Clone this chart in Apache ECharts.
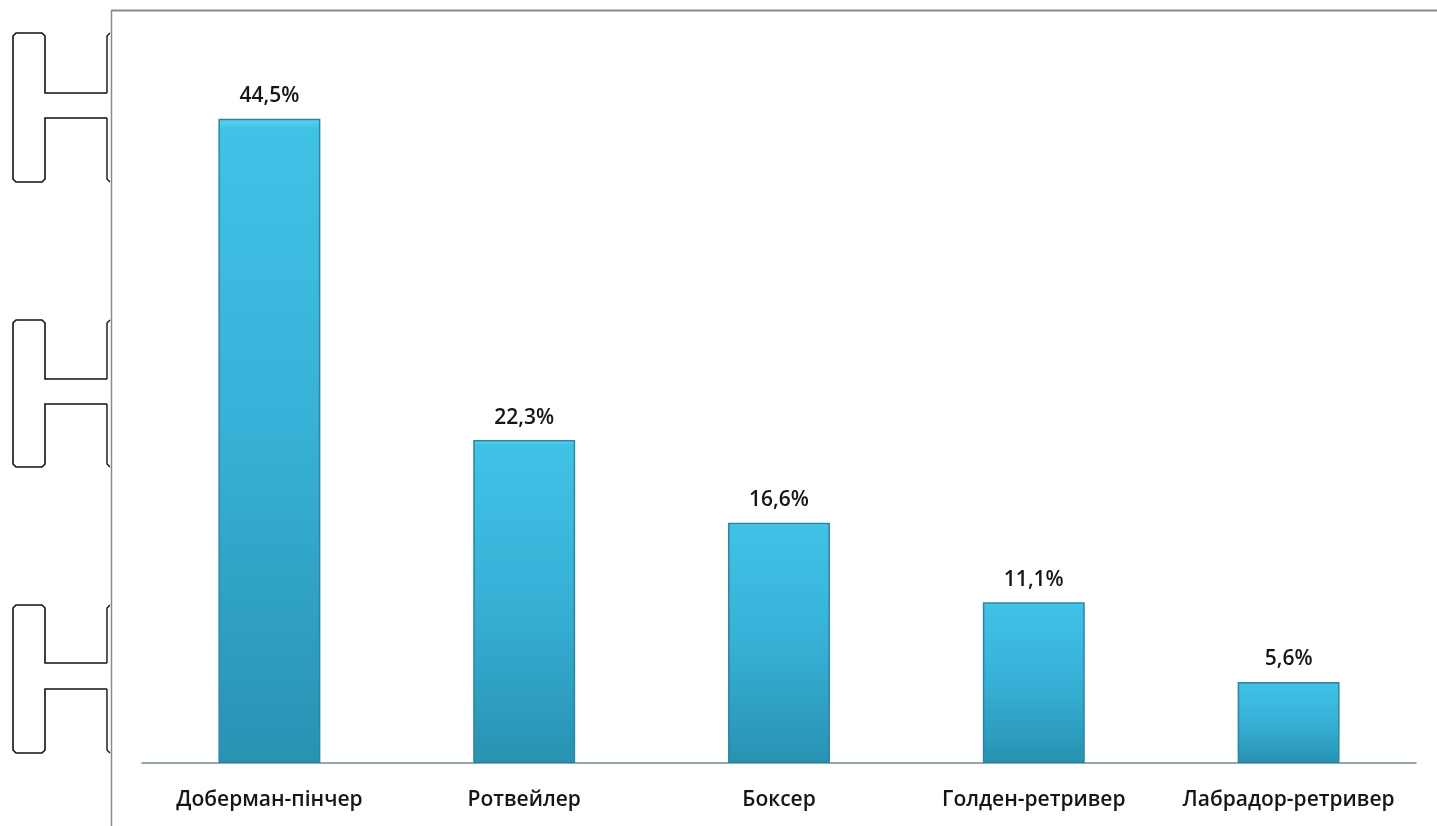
<!DOCTYPE html>
<html>
<head>
<meta charset="utf-8">
<script src="https://cdn.jsdelivr.net/npm/echarts@6/dist/echarts.min.js"></script>
<style>
html,body{margin:0;padding:0;background:#fff;}
#c{width:1437px;height:826px;}
</style>
</head>
<body>
<div id="c"></div>
<script>
const categories = ['Доберман-пінчер', 'Ротвейлер', 'Боксер', 'Голден-ретривер', 'Лабрадор-ретривер'];
const values = [44.5, 22.3, 16.6, 11.1, 5.6];
const valueLabels = ['44,5%', '22,3%', '16,6%', '11,1%', '5,6%'];

const chart = echarts.init(document.getElementById('c'), null, {renderer: 'canvas'});

function hShape(top, bar1, bar2, bottom) {
  const l = 13, r = 45, rc = 107;
  return [
    {type: 'polyline', shape: {points: [[rc, bar1], [r, bar1], [r, top + 3], [r - 3, top], [l + 3, top], [l, top + 3], [l, bottom - 3], [l + 3, bottom], [r - 3, bottom], [r, bottom - 3], [r, bar2], [rc, bar2]]},
     style: {stroke: '#111', lineWidth: 1.6, fill: null}},
    {type: 'polyline', shape: {points: [[rc + 3, top], [rc, top + 3], [rc, bar1]]}, style: {stroke: '#111', lineWidth: 1.4, fill: null}},
    {type: 'polyline', shape: {points: [[rc, bar2], [rc, bottom - 3], [rc + 3, bottom]]}, style: {stroke: '#111', lineWidth: 1.4, fill: null}}
  ];
}

const graphics = [].concat(
  hShape(33, 93, 118, 182),
  hShape(320, 379, 404, 467),
  hShape(605, 663, 689, 753),
  [
    {type: 'line', shape: {x1: 111.5, y1: 10, x2: 111.5, y2: 826}, style: {stroke: '#8a8a8a', lineWidth: 1.5}},
    {type: 'line', shape: {x1: 111.5, y1: 10.5, x2: 1437, y2: 10.5}, style: {stroke: '#8a8a8a', lineWidth: 2}}
  ]
);

chart.setOption({
  animation: false,
  backgroundColor: '#ffffff',
  grid: {left: 142, right: 21, top: 39, bottom: 63, containLabel: false},
  xAxis: {
    type: 'category',
    data: categories,
    axisLine: {show: true, lineStyle: {color: '#6e8a94', width: 1.5}},
    axisTick: {show: false},
    axisLabel: {interval: 0, hideOverlap: false, color: '#161616', fontSize: 21, fontWeight: 600, fontFamily: 'Open Sans', margin: 27}
  },
  yAxis: {
    type: 'value', min: 0, max: 50,
    show: false,
    splitLine: {show: false}
  },
  graphic: graphics,
  series: [{
    type: 'bar',
    data: values,
    barWidth: '40%',
    itemStyle: {
      color: {
        type: 'linear', x: 0, y: 0, x2: 0, y2: 1,
        colorStops: [
          {offset: 0, color: '#5ad4f0'},
          {offset: 0.015, color: '#40c2e6'},
          {offset: 0.5, color: '#37b0d6'},
          {offset: 1, color: '#2892b2'}
        ]
      },
      borderColor: '#2a86a0',
      borderWidth: 1.5
    },
    label: {
      show: true,
      position: 'top',
      distance: 12,
      color: '#161616',
      fontSize: 21,
      fontWeight: 600,
      fontFamily: 'Open Sans',
      formatter: p => valueLabels[p.dataIndex]
    }
  }]
});
</script>
</body>
</html>
